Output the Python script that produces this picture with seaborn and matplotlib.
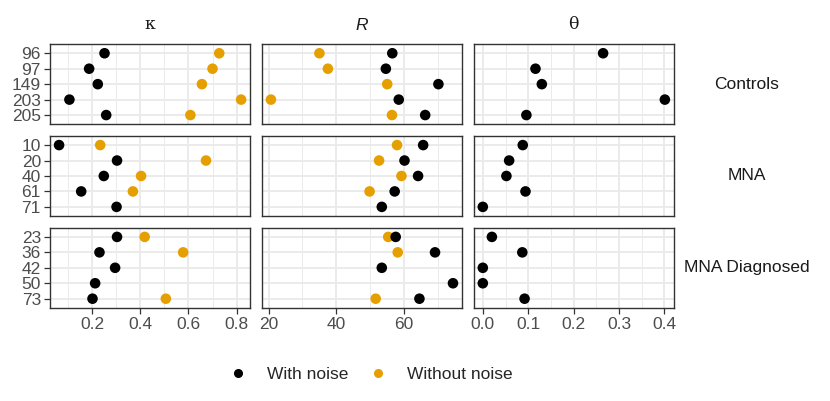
import pandas as pd
import matplotlib
matplotlib.use('Agg')
import matplotlib.pyplot as plt
import seaborn as sns
from matplotlib.lines import Line2D
from matplotlib.ticker import MultipleLocator

# values (row order: Controls, MNA, MNA Diagnosed)
groups = ['Controls'] * 5 + ['MNA'] * 5 + ['MNA Diagnosed'] * 5
ids = ['96', '97', '149', '203', '205',
       '10', '20', '40', '61', '71',
       '23', '36', '42', '50', '73']
kappa_noise = [0.251, 0.187, 0.223, 0.105, 0.258, 0.062, 0.303, 0.248, 0.154, 0.301,
               0.303, 0.230, 0.295, 0.212, 0.201]
kappa_clean = [0.728, 0.700, 0.656, 0.819, 0.608, 0.233, 0.673, 0.403, 0.369, None,
               0.418, 0.578, None, None, 0.506]
r_noise = [56.5, 54.6, 70.1, 58.4, 66.2, 65.6, 60.1, 64.1, 57.2, 53.4,
           57.5, 69.1, 53.4, 74.4, 64.5]
r_clean = [35.0, 37.5, 55.0, 20.7, 56.4, 57.9, 52.6, 59.2, 49.8, None,
           55.3, 58.1, None, None, 51.6]
theta_noise = [0.265, 0.116, 0.130, 0.401, 0.096, 0.088, 0.058, 0.052, 0.094, 0.0,
               0.020, 0.087, 0.0, 0.0, 0.092]

group_names = ['Controls', 'MNA', 'MNA Diagnosed']
params = ['kappa', 'R', 'theta']
noise_levels = ['With noise', 'Without noise']
palette = {'With noise': '#000000', 'Without noise': '#E69F00'}

# long table, "without noise" first so black points sit on top
rows = []
series = [('kappa', 'Without noise', kappa_clean), ('R', 'Without noise', r_clean),
          ('kappa', 'With noise', kappa_noise), ('R', 'With noise', r_noise),
          ('theta', 'With noise', theta_noise)]
for p, nz, vals in series:
    for g, i, v in zip(groups, ids, vals):
        rows.append({'group': g, 'id': i, 'param': p, 'noise': nz, 'value': v})
df = pd.DataFrame(rows).dropna()

sns.set_style('white')
plt.rcParams['font.family'] = ['Liberation Sans', 'DejaVu Sans']
fs = 12.5

fig, axes = plt.subplots(3, 3, figsize=(8.3, 4.01), dpi=100, sharex='col')
fig.subplots_adjust(left=0.0602, right=0.812, top=0.8903, bottom=0.232,
                    wspace=0.058, hspace=0.143)

majors = {'kappa': (0.2, 0.1), 'R': (20, 10), 'theta': (0.1, 0.05)}

for r, g in enumerate(group_names):
    order = [i for gg, i in zip(groups, ids) if gg == g]
    for c, p in enumerate(params):
        ax = axes[r, c]
        sub = df[(df['group'] == g) & (df['param'] == p)].copy()
        sub['id'] = pd.Categorical(sub['id'], categories=order)
        sns.scatterplot(data=sub, x='value', y='id', hue='noise', hue_order=noise_levels,
                        palette=palette, s=58, linewidth=0, legend=False, ax=ax, zorder=3)
        ax.set_ylim(len(order) - 1 + 0.6, -0.6)
        ax.set_yticks(range(len(order)))
        ax.set_yticklabels(order)
        ax.xaxis.set_major_locator(MultipleLocator(majors[p][0]))
        ax.xaxis.set_minor_locator(MultipleLocator(majors[p][1]))
        ax.set_axisbelow(True)
        ax.grid(which='major', color='#EBEBEB', lw=1.4)
        ax.grid(which='minor', color='#EBEBEB', lw=0.7)
        ax.set_xlabel('')
        ax.set_ylabel('')
        for s in ax.spines.values():
            s.set_color('#333333')
            s.set_linewidth(1.0)
        ax.tick_params(axis='both', which='major', labelsize=fs, labelcolor='#4D4D4D',
                       color='#333333', length=4, width=0.9, pad=2.5)
        ax.tick_params(axis='x', which='minor', length=0)
        if c > 0:
            ax.tick_params(axis='y', left=False, labelleft=False)
        else:
            ax.tick_params(axis='y', left=True)
        if r < 2:
            ax.tick_params(axis='x', bottom=False, labelbottom=False)
        else:
            ax.tick_params(axis='x', bottom=True)
    axes[r, 2].text(1.365, 0.5, g, transform=axes[r, 2].transAxes, ha='center',
                    va='center', fontsize=fs, color='#1A1A1A')

titles = [('κ', 'DejaVu Serif', 'normal'), ('R', 'Liberation Sans', 'italic'),
          ('θ', 'DejaVu Serif', 'normal')]
for c, (t, fam, sty) in enumerate(titles):
    axes[0, c].annotate(t, xy=(0.5, 1.0), xycoords='axes fraction', xytext=(0, 8),
                        textcoords='offset points', ha='center', va='bottom',
                        fontsize=fs, color='#1A1A1A', family=fam, style=sty)

handles = [Line2D([], [], marker='o', ls='', color=palette[n], markersize=5.5)
           for n in noise_levels]
fig.legend(handles, noise_levels, loc='center', bbox_to_anchor=(0.447, 0.067), ncol=2,
           frameon=False, fontsize=fs, handlelength=1.0, handletextpad=1.15,
           columnspacing=1.2)

fig.savefig('out.png', dpi=100)
